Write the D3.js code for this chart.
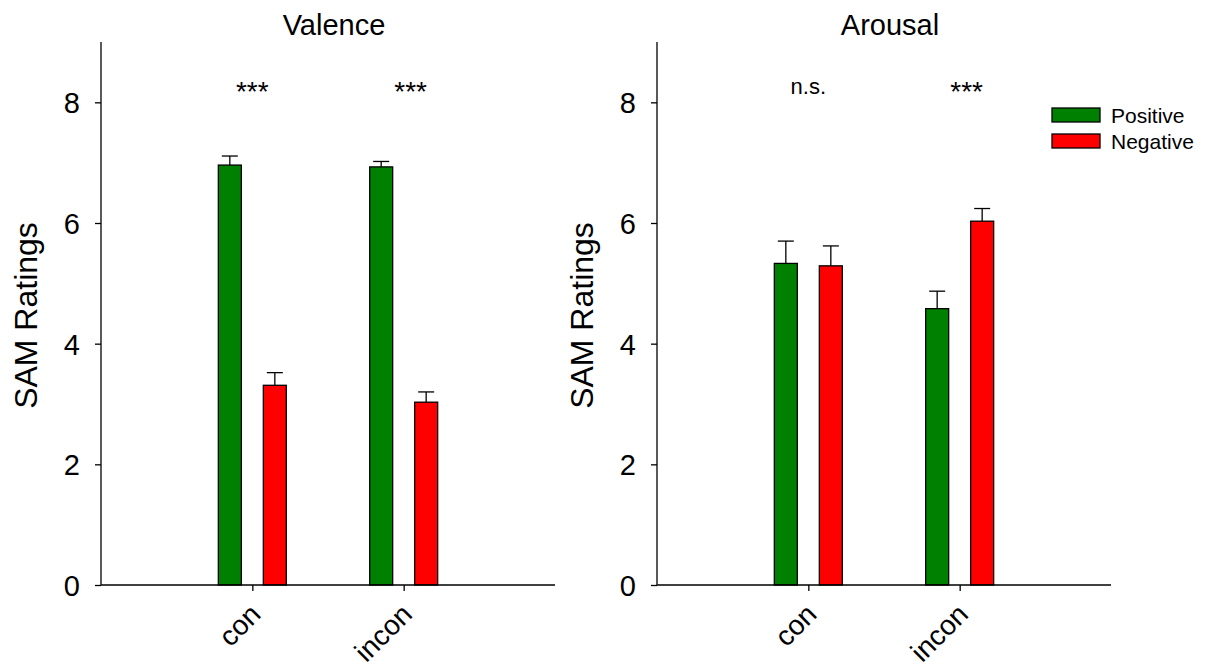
<!DOCTYPE html>
<html>
<head>
<meta charset="utf-8">
<script src="https://cdn.jsdelivr.net/npm/d3@7"></script>
<style>
  body { margin: 0; background: #fff; }
  svg { display: block; }
  svg text { font-family: "Liberation Sans", Arial, sans-serif; fill: #000; }
</style>
</head>
<body>
<svg id="chart" width="1209" height="668"></svg>
<script>
// Conditions and series
const categories = ["con", "incon"];
const seriesNames = ["Positive", "Negative"];
const seriesColors = ["#008000", "#ff0000"];
const yTicks = [0, 2, 4, 6, 8];

// Valence ratings (mean and standard error)
const valencePositive = [6.96, 6.93];
const valenceNegative = [3.31, 3.03];
const valencePositiveErr = [0.15, 0.09];
const valenceNegativeErr = [0.21, 0.17];
const valenceSig = ["***", "***"];

// Arousal ratings (mean and standard error)
const arousalPositive = [5.33, 4.58];
const arousalNegative = [5.29, 6.03];
const arousalPositiveErr = [0.37, 0.29];
const arousalNegativeErr = [0.33, 0.21];
const arousalSig = ["n.s.", "***"];

const panels = [
  { title: "Valence", left: 101, means: [valencePositive, valenceNegative], errs: [valencePositiveErr, valenceNegativeErr], sig: valenceSig, legend: false },
  { title: "Arousal", left: 657, means: [arousalPositive, arousalNegative], errs: [arousalPositiveErr, arousalNegativeErr], sig: arousalSig, legend: true }
];

const svg = d3.select("#chart");
const plotW = 454, plotTop = 42, plotBottom = 585;
const barW = 23, barGap = 22;

const y = d3.scaleLinear().domain([0, 9]).range([plotBottom, plotTop]);

panels.forEach(p => {
  const g = svg.append("g");
  const x = d3.scalePoint().domain(categories).range([p.left, p.left + plotW]).padding(1);

  // bars + error bars
  p.means.forEach((vals, si) => {
    const off = si === 0 ? -(barGap / 2 + barW) : barGap / 2;
    categories.forEach((c, ci) => {
      const x0 = x(c) + off;
      const v = vals[ci], e = p.errs[si][ci];
      const cx = x0 + barW / 2;
      g.append("line")
        .attr("x1", cx).attr("x2", cx)
        .attr("y1", y(v)).attr("y2", y(v + e))
        .attr("stroke", "#000").attr("stroke-width", 1.3);
      g.append("line")
        .attr("x1", cx - 8).attr("x2", cx + 8)
        .attr("y1", y(v + e)).attr("y2", y(v + e))
        .attr("stroke", "#000").attr("stroke-width", 1.3);
      g.append("rect")
        .attr("x", x0).attr("y", y(v))
        .attr("width", barW).attr("height", y(0) - y(v))
        .attr("fill", seriesColors[si])
        .attr("stroke", "#000").attr("stroke-width", 1.3);
    });
  });

  // y axis
  const yAxis = g.append("g")
    .attr("transform", `translate(${p.left},0)`)
    .call(d3.axisLeft(y).tickValues(yTicks).tickSize(6).tickPadding(15).tickFormat(d3.format("d")));
  yAxis.select(".domain").attr("d", `M0,${plotTop}V${plotBottom}`).attr("stroke-width", 1.3);
  yAxis.selectAll(".tick line").attr("stroke-width", 1.3);
  yAxis.selectAll("text")
    .attr("font-size", 29)
    .attr("dy", "0.36em");

  // x axis
  const xAxis = g.append("g")
    .attr("transform", `translate(0,${plotBottom})`)
    .call(d3.axisBottom(x).tickSize(6).tickFormat(""));
  xAxis.select(".domain").attr("d", `M${p.left},0H${p.left + plotW}`).attr("stroke-width", 1.3);
  xAxis.selectAll(".tick line").attr("stroke-width", 1.3);
  categories.forEach(c => {
    g.append("text")
      .attr("transform", `translate(${x(c) + 10},${plotBottom + 31}) rotate(-45)`)
      .attr("text-anchor", "end")
      .attr("font-size", 28)
      .text(c);
  });

  // y label
  g.append("text")
    .attr("transform", `translate(${p.left - 64},${(plotTop + plotBottom) / 2 + 2}) rotate(-90)`)
    .attr("text-anchor", "middle")
    .attr("font-size", 32)
    .text("SAM Ratings");

  // title
  g.append("text")
    .attr("x", p.left + plotW / 2 + 6).attr("y", 35)
    .attr("text-anchor", "middle")
    .attr("font-size", 29)
    .text(p.title);

  // significance markers
  categories.forEach((c, ci) => {
    const isStars = p.sig[ci] === "***";
    g.append("text")
      .attr("x", x(c) + (ci === 1 ? 7 : 0)).attr("y", isStars ? 101 : 94)
      .attr("text-anchor", "middle")
      .attr("font-size", isStars ? 28 : 22)
      .text(p.sig[ci]);
  });

  // legend
  if (p.legend) {
    seriesNames.forEach((n, i) => {
      const ly = 108 + i * 26;
      svg.append("rect")
        .attr("x", 1052).attr("y", ly).attr("width", 48).attr("height", 14)
        .attr("fill", seriesColors[i]).attr("stroke", "#000").attr("stroke-width", 1.3);
      svg.append("text")
        .attr("x", 1111).attr("y", ly + 15)
        .attr("font-size", 21)
        .text(n);
    });
  }
});
</script>
</body>
</html>
